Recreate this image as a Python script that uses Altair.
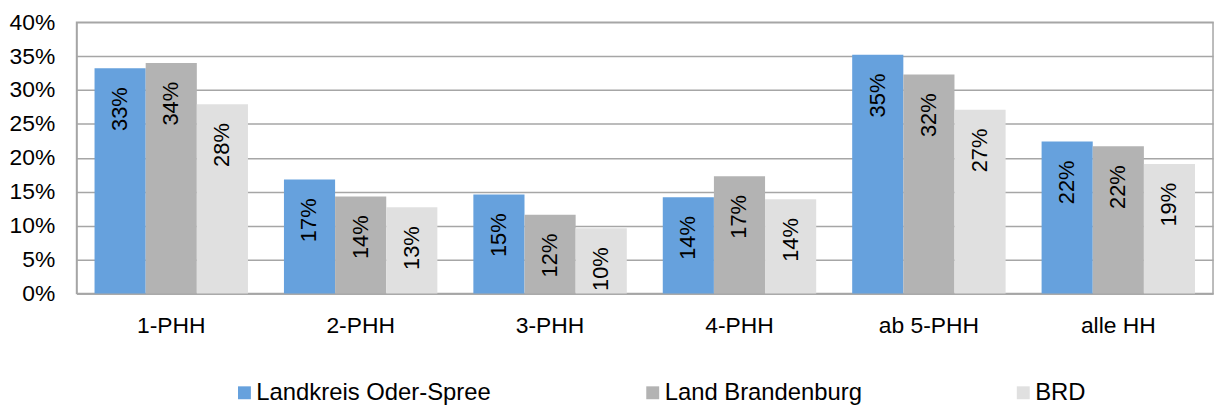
import altair as alt
import pandas as pd

categories = ["1-PHH", "2-PHH", "3-PHH", "4-PHH", "ab 5-PHH", "alle HH"]
series = ["Landkreis Oder-Spree", "Land Brandenburg", "BRD"]
lkr_values = [33.2, 16.8, 14.6, 14.2, 35.2, 22.4]
bb_values = [34.0, 14.3, 11.6, 17.3, 32.3, 21.7]
brd_values = [27.9, 12.7, 9.6, 13.9, 27.1, 19.1]
colors = ["#66A1DD", "#B3B3B3", "#E0E0E0"]
y_ticks = [0, 0.05, 0.10, 0.15, 0.20, 0.25, 0.30, 0.35, 0.40]

rows = []
for s, vals in zip(series, [lkr_values, bb_values, brd_values]):
    for c, v in zip(categories, vals):
        rows.append({"Kategorie": c, "Gebiet": s, "Anteil": v / 100})
df = pd.DataFrame(rows)

x_enc = alt.X("Kategorie:N", sort=categories,
              scale=alt.Scale(paddingInner=0.19, paddingOuter=0.095),
              axis=alt.Axis(title=None, labelAngle=0, labelFontSize=23,
                            labelColor="#000000", labelPadding=21,
                            ticks=False, domain=True, domainColor="#A6A6A6",
                            domainWidth=1.5, grid=False))
xoff_enc = alt.XOffset("Gebiet:N", sort=series,
                       scale=alt.Scale(paddingInner=0, paddingOuter=0))
y_enc = alt.Y("Anteil:Q",
              scale=alt.Scale(domain=[0, 0.4], nice=False),
              axis=alt.Axis(title=None, format=".0%", values=y_ticks,
                            labelFontSize=23, labelColor="#000000",
                            labelPadding=22, ticks=False, tickSize=0,
                            labelOverlap=False,
                            domain=True, domainColor="#A6A6A6", domainWidth=1.5,
                            grid=True, gridColor="#A6A6A6", gridWidth=1.5))

bars = alt.Chart(df).mark_bar().encode(
    x=x_enc,
    xOffset=xoff_enc,
    y=y_enc,
    color=alt.Color("Gebiet:N", sort=series,
                    scale=alt.Scale(domain=series, range=colors),
                    legend=alt.Legend(title=None, orient="none",
                                      direction="horizontal", columns=3,
                                      legendX=157, legendY=361,
                                      symbolType="square", symbolSize=169,
                                      symbolStrokeWidth=0, symbolOpacity=1,
                                      labelFontSize=24, labelColor="#000000",
                                      labelOffset=0, columnPadding=150,
                                      padding=0, labelLimit=400)),
)

labels = alt.Chart(df).mark_text(
    angle=270, align="right", baseline="middle", dx=-19,
    fontSize=22, color="#000000"
).encode(
    x=x_enc,
    xOffset=xoff_enc,
    y=y_enc,
    text=alt.Text("Anteil:Q", format=".0%"),
)

chart = alt.layer(bars, labels).properties(
    width=1144, height=273,
    autosize=alt.AutoSizeParams(type="none"),
    padding={"left": 69, "top": 13, "right": 2, "bottom": 118},
).configure(
    font="Liberation Sans",
).configure_view(
    stroke="#A6A6A6", strokeWidth=1.5,
)

chart.save("out.html", embed_options={"renderer": "svg", "actions": False})
